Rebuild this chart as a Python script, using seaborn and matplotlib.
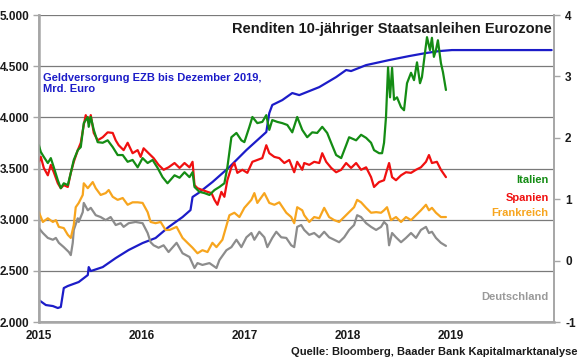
import matplotlib

matplotlib.use("Agg")
import matplotlib.pyplot as plt
import matplotlib.ticker as mticker
import seaborn as sns

# --- data (decimal years) ----------------------------------------------------
# ECB money supply, bn EUR (left axis)
ezb_years = [2015.000, 2015.068, 2015.136, 2015.184, 2015.213, 2015.242, 2015.281,
             2015.387, 2015.475, 2015.484, 2015.504, 2015.620, 2015.746, 2015.872,
             2016.007, 2016.133, 2016.259, 2016.395, 2016.472, 2016.492, 2016.550,
             2016.685, 2016.850, 2017.015, 2017.208, 2017.237, 2017.266, 2017.363,
             2017.460, 2017.528, 2017.722, 2017.886, 2017.983, 2018.031, 2018.177,
             2018.400, 2018.593, 2018.758, 2018.884, 2019.010, 2019.978]
ezb_bn = [2215, 2166, 2156, 2137, 2147, 2332, 2352,
          2391, 2459, 2537, 2498, 2537, 2625, 2704,
          2772, 2821, 2928, 3026, 3094, 3222, 3261,
          3368, 3515, 3681, 3857, 4042, 4121, 4169,
          4238, 4218, 4296, 4394, 4463, 4453, 4511,
          4560, 4599, 4629, 4648, 4658, 4658]

# 10y yields in % (right axis)
it_years = [2015.000, 2015.019, 2015.048, 2015.087, 2015.116, 2015.145, 2015.184,
            2015.213, 2015.242, 2015.281, 2015.310, 2015.339, 2015.378, 2015.407,
            2015.436, 2015.475, 2015.484, 2015.504, 2015.533, 2015.571, 2015.620,
            2015.668, 2015.717, 2015.765, 2015.814, 2015.862, 2015.910, 2015.959,
            2016.007, 2016.056, 2016.104, 2016.153, 2016.201, 2016.249, 2016.317,
            2016.366, 2016.414, 2016.462, 2016.492, 2016.511, 2016.559, 2016.608,
            2016.656, 2016.705, 2016.753, 2016.801, 2016.830, 2016.869, 2016.918,
            2016.966, 2016.995, 2017.044, 2017.073, 2017.121, 2017.169, 2017.208,
            2017.237, 2017.266, 2017.315, 2017.363, 2017.412, 2017.460, 2017.508,
            2017.557, 2017.605, 2017.654, 2017.702, 2017.751, 2017.799, 2017.847,
            2017.886, 2017.935, 2017.983, 2018.012, 2018.080, 2018.128, 2018.177,
            2018.225, 2018.254, 2018.303, 2018.332, 2018.351, 2018.370, 2018.390,
            2018.409, 2018.429, 2018.448, 2018.477, 2018.516, 2018.545, 2018.574,
            2018.613, 2018.642, 2018.671, 2018.700, 2018.719, 2018.748, 2018.768,
            2018.797, 2018.816, 2018.835, 2018.855, 2018.874, 2018.903, 2018.923,
            2018.952]
it_yield = [1.88, 1.77, 1.69, 1.59, 1.67, 1.52, 1.31,
            1.18, 1.26, 1.23, 1.43, 1.64, 1.80, 1.85,
            2.24, 2.34, 2.18, 2.34, 2.13, 1.93, 1.92,
            1.96, 1.85, 1.72, 1.72, 1.61, 1.64, 1.52,
            1.67, 1.59, 1.64, 1.51, 1.36, 1.26, 1.39,
            1.35, 1.44, 1.36, 1.44, 1.20, 1.12, 1.10,
            1.07, 1.15, 1.20, 1.26, 1.52, 2.01, 2.08,
            1.96, 1.93, 2.18, 2.34, 2.24, 2.26, 2.37,
            2.13, 2.29, 2.26, 2.24, 2.21, 2.09, 2.34,
            2.13, 2.01, 2.09, 2.08, 2.18, 2.08, 1.88,
            1.72, 1.67, 1.88, 2.01, 1.96, 2.05, 2.00,
            1.92, 1.80, 1.75, 1.75, 1.92, 2.34, 3.15,
            2.66, 3.14, 2.62, 2.66, 2.50, 2.45, 2.89,
            3.06, 2.94, 3.23, 2.89, 2.99, 3.38, 3.64,
            3.43, 3.63, 3.32, 3.43, 3.59, 3.22, 3.07,
            2.78]

es_years = [2015.000, 2015.019, 2015.048, 2015.087, 2015.116, 2015.145, 2015.184,
            2015.213, 2015.242, 2015.281, 2015.310, 2015.339, 2015.378, 2015.407,
            2015.436, 2015.455, 2015.484, 2015.504, 2015.533, 2015.571, 2015.620,
            2015.668, 2015.717, 2015.746, 2015.775, 2015.823, 2015.862, 2015.910,
            2015.959, 2015.988, 2016.017, 2016.065, 2016.114, 2016.162, 2016.211,
            2016.259, 2016.317, 2016.366, 2016.414, 2016.462, 2016.492, 2016.511,
            2016.540, 2016.588, 2016.637, 2016.676, 2016.705, 2016.734, 2016.772,
            2016.801, 2016.830, 2016.869, 2016.898, 2016.927, 2016.976, 2017.024,
            2017.073, 2017.121, 2017.169, 2017.208, 2017.237, 2017.286, 2017.334,
            2017.383, 2017.431, 2017.479, 2017.508, 2017.557, 2017.576, 2017.625,
            2017.673, 2017.722, 2017.751, 2017.789, 2017.838, 2017.886, 2017.935,
            2017.983, 2018.031, 2018.080, 2018.128, 2018.177, 2018.225, 2018.254,
            2018.303, 2018.351, 2018.380, 2018.400, 2018.429, 2018.467, 2018.516,
            2018.564, 2018.613, 2018.661, 2018.709, 2018.758, 2018.787, 2018.816,
            2018.864, 2018.903, 2018.952]
es_yield = [1.61, 1.69, 1.51, 1.39, 1.56, 1.44, 1.26,
            1.18, 1.23, 1.20, 1.43, 1.61, 1.80, 1.92,
            2.21, 2.37, 2.24, 2.37, 2.08, 1.96, 2.01,
            2.09, 2.08, 1.96, 1.88, 1.80, 1.92, 1.75,
            1.80, 1.69, 1.83, 1.75, 1.67, 1.56, 1.48,
            1.52, 1.59, 1.51, 1.59, 1.52, 1.61, 1.23,
            1.18, 1.15, 1.12, 1.10, 0.99, 0.91, 1.12,
            1.04, 1.31, 1.52, 1.59, 1.43, 1.48, 1.43,
            1.61, 1.64, 1.67, 1.88, 1.75, 1.69, 1.67,
            1.59, 1.64, 1.44, 1.61, 1.48, 1.59, 1.56,
            1.61, 1.59, 1.75, 1.61, 1.51, 1.44, 1.48,
            1.59, 1.51, 1.59, 1.48, 1.52, 1.36, 1.20,
            1.28, 1.31, 1.48, 1.59, 1.36, 1.31, 1.39,
            1.44, 1.43, 1.48, 1.52, 1.61, 1.72, 1.59,
            1.61, 1.48, 1.36]

fr_years = [2015.000, 2015.039, 2015.087, 2015.136, 2015.165, 2015.194, 2015.242,
            2015.281, 2015.310, 2015.339, 2015.358, 2015.387, 2015.426, 2015.436,
            2015.475, 2015.523, 2015.552, 2015.600, 2015.649, 2015.678, 2015.717,
            2015.765, 2015.814, 2015.862, 2015.910, 2015.959, 2016.007, 2016.056,
            2016.085, 2016.133, 2016.182, 2016.230, 2016.269, 2016.337, 2016.395,
            2016.443, 2016.492, 2016.540, 2016.588, 2016.637, 2016.685, 2016.724,
            2016.782, 2016.850, 2016.898, 2016.947, 2016.995, 2017.063, 2017.092,
            2017.121, 2017.189, 2017.237, 2017.286, 2017.334, 2017.402, 2017.450,
            2017.479, 2017.508, 2017.557, 2017.576, 2017.625, 2017.673, 2017.722,
            2017.770, 2017.818, 2017.867, 2017.915, 2017.964, 2018.012, 2018.060,
            2018.090, 2018.128, 2018.177, 2018.225, 2018.274, 2018.322, 2018.351,
            2018.380, 2018.419, 2018.467, 2018.516, 2018.564, 2018.613, 2018.661,
            2018.709, 2018.758, 2018.787, 2018.816, 2018.855, 2018.903, 2018.952]
fr_yield = [0.79, 0.63, 0.69, 0.63, 0.66, 0.55, 0.53,
            0.42, 0.37, 0.58, 0.87, 0.94, 1.07, 1.26,
            1.18, 1.28, 1.18, 1.07, 1.10, 1.15, 1.04,
            0.99, 1.02, 0.91, 0.95, 0.95, 0.94, 0.79,
            0.63, 0.61, 0.63, 0.50, 0.50, 0.55, 0.37,
            0.29, 0.21, 0.12, 0.17, 0.14, 0.29, 0.22,
            0.34, 0.74, 0.78, 0.71, 0.86, 0.99, 1.10,
            0.94, 1.10, 0.94, 0.91, 0.95, 0.78, 0.71,
            0.61, 0.87, 0.82, 0.74, 0.63, 0.71, 0.69,
            0.86, 0.71, 0.66, 0.63, 0.71, 0.79, 0.87,
            0.99, 0.95, 0.86, 0.78, 0.79, 0.78, 0.82,
            0.87, 0.66, 0.71, 0.63, 0.71, 0.66, 0.74,
            0.82, 0.91, 0.82, 0.86, 0.78, 0.71, 0.71]

de_years = [2015.000, 2015.039, 2015.087, 2015.136, 2015.165, 2015.194, 2015.242,
            2015.291, 2015.310, 2015.329, 2015.339, 2015.378, 2015.387, 2015.426,
            2015.436, 2015.475, 2015.504, 2015.552, 2015.600, 2015.649, 2015.697,
            2015.746, 2015.794, 2015.823, 2015.872, 2015.939, 2016.007, 2016.056,
            2016.085, 2016.114, 2016.162, 2016.211, 2016.259, 2016.337, 2016.395,
            2016.462, 2016.511, 2016.540, 2016.588, 2016.656, 2016.724, 2016.753,
            2016.821, 2016.869, 2016.918, 2016.966, 2017.015, 2017.063, 2017.092,
            2017.140, 2017.189, 2017.218, 2017.266, 2017.305, 2017.353, 2017.402,
            2017.450, 2017.479, 2017.508, 2017.547, 2017.576, 2017.625, 2017.673,
            2017.722, 2017.770, 2017.818, 2017.867, 2017.915, 2017.964, 2018.012,
            2018.060, 2018.090, 2018.128, 2018.177, 2018.225, 2018.274, 2018.322,
            2018.351, 2018.380, 2018.400, 2018.429, 2018.467, 2018.516, 2018.564,
            2018.613, 2018.661, 2018.709, 2018.758, 2018.787, 2018.816, 2018.855,
            2018.903, 2018.952]
de_yield = [0.53, 0.45, 0.37, 0.34, 0.37, 0.29, 0.22,
            0.14, 0.09, 0.29, 0.50, 0.69, 0.63, 0.79,
            0.94, 0.82, 0.86, 0.74, 0.71, 0.66, 0.71,
            0.58, 0.61, 0.55, 0.61, 0.63, 0.61, 0.45,
            0.30, 0.25, 0.21, 0.25, 0.14, 0.29, 0.12,
            0.06, -0.12, -0.04, -0.07, -0.04, -0.12, 0.01,
            0.17, 0.22, 0.34, 0.22, 0.38, 0.45, 0.34,
            0.47, 0.38, 0.22, 0.37, 0.47, 0.38, 0.37,
            0.25, 0.22, 0.55, 0.58, 0.50, 0.42, 0.45,
            0.38, 0.47, 0.38, 0.34, 0.30, 0.38, 0.50,
            0.58, 0.74, 0.71, 0.61, 0.55, 0.50, 0.55,
            0.63, 0.58, 0.25, 0.45, 0.38, 0.30, 0.37,
            0.45, 0.37, 0.50, 0.55, 0.45, 0.47, 0.37,
            0.29, 0.24]

year_ticks = [2015, 2016, 2017, 2018, 2019]
left_ticks = [2000, 2500, 3000, 3500, 4000, 4500, 5000]
right_ticks = [-1, 0, 1, 2, 3, 4]

BLUE = "#1c1cc8"
GREEN = "#148c14"
RED = "#f01010"
ORANGE = "#f7a51e"
GREY = "#8c8c8c"
AXIS_GREY = "#a6a6a6"

sns.set_theme(style="white")
plt.rcParams["font.family"] = ["Liberation Sans", "DejaVu Sans"]
plt.rcParams["font.weight"] = "bold"
plt.rcParams["axes.unicode_minus"] = False

fig = plt.figure(figsize=(5.8, 3.59), dpi=100)
ax = fig.add_axes([0.067, 0.103, 0.888, 0.855])
ax2 = ax.twinx()

sns.lineplot(x=ezb_years, y=ezb_bn, ax=ax, color=BLUE, linewidth=1.6)
for years, vals, color in [
    (de_years, de_yield, GREY),
    (fr_years, fr_yield, ORANGE),
    (es_years, es_yield, RED),
    (it_years, it_yield, GREEN),
]:
    sns.lineplot(x=years, y=vals, ax=ax2, color=color, linewidth=1.6)

ax.set_xlim(2015, 2020)
ax.set_ylim(2000, 5000)
ax2.set_ylim(-1, 4)
ax.set_xticks(year_ticks)
ax.set_xticklabels([str(y) for y in year_ticks])
ax.set_yticks(left_ticks)
ax.yaxis.set_major_formatter(mticker.FuncFormatter(lambda v, _: f"{v:,.0f}".replace(",", ".")))
ax2.set_yticks(right_ticks)
ax.set_xlabel("")
ax.set_ylabel("")
ax2.set_ylabel("")

ax.yaxis.grid(True, color="#7a7a7a", linewidth=0.9)
ax.xaxis.grid(False)
ax.set_axisbelow(True)

for a in (ax, ax2):
    for side in ("left", "right", "bottom"):
        a.spines[side].set_color(AXIS_GREY)
        a.spines[side].set_linewidth(1.2)
    a.spines["top"].set_visible(False)
ax.spines["left"].set_linewidth(1.8)
ax.spines["bottom"].set_linewidth(1.8)

ax.tick_params(axis="both", direction="out", length=4, width=1, color=AXIS_GREY,
               labelsize=8.5, pad=3, labelcolor="#1a1a1a")
ax.tick_params(axis="x", pad=2)
ax2.tick_params(axis="y", direction="out", length=4, width=1, color=AXIS_GREY,
                labelsize=8.5, pad=4, labelcolor="#1a1a1a")
for lbl in ax.get_xticklabels() + ax.get_yticklabels() + ax2.get_yticklabels():
    lbl.set_fontweight("bold")

ax2.text(0.996, 0.954, "Renditen 10-jähriger Staatsanleihen Eurozone", transform=ax.transAxes,
         ha="right", va="center", fontsize=10.5, fontweight="bold", color="#1a1a1a")
ax2.text(0.009, 0.777, "Geldversorgung EZB bis Dezember 2019,\nMrd. Euro", transform=ax.transAxes,
         ha="left", va="center", fontsize=8, fontweight="bold", color=BLUE, linespacing=1.05)
ax2.text(0.99, 0.462, "Italien", transform=ax.transAxes, ha="right", va="center",
         fontsize=8, fontweight="bold", color=GREEN)
ax2.text(0.99, 0.404, "Spanien", transform=ax.transAxes, ha="right", va="center",
         fontsize=8, fontweight="bold", color=RED)
ax2.text(0.99, 0.355, "Frankreich", transform=ax.transAxes, ha="right", va="center",
         fontsize=8, fontweight="bold", color=ORANGE)
ax2.text(0.99, 0.081, "Deutschland", transform=ax.transAxes, ha="right", va="center",
         fontsize=8, fontweight="bold", color="#9a9a9a")

fig.text(0.995, 0.020, "Quelle: Bloomberg, Baader Bank Kapitalmarktanalyse",
         ha="right", va="center", fontsize=8, fontweight="bold", color="#1a1a1a")

fig.savefig("out.png", dpi=100)
